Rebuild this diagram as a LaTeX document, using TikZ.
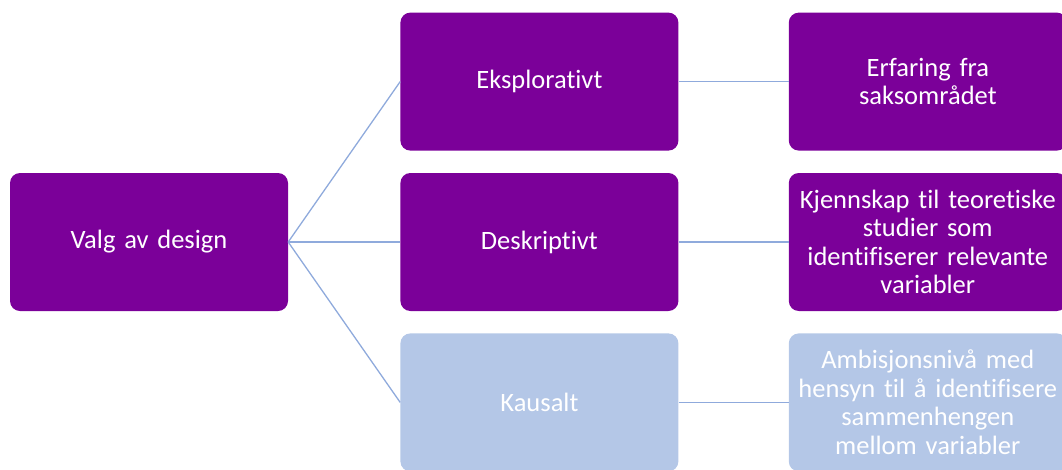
\documentclass[tikz,border=0pt]{standalone}
\usepackage{fontspec}
\setmainfont{Carlito}[Ligatures=NoCommon]
\usetikzlibrary{positioning}

\definecolor{designpurple}{RGB}{123,0,153}
\definecolor{designpale}{RGB}{180,199,231}
\definecolor{linkcolor}{RGB}{143,170,220}

\tikzset{
  designbox/.style={rectangle, rounded corners=10pt, fill=designpurple, text=white,
    minimum width=278pt, minimum height=138pt, text width=274pt, align=center,
    inner sep=0pt, font=\fontsize{26.5}{28.5}\selectfont},
  palebox/.style={designbox, fill=designpale},
  link/.style={draw=linkcolor, line width=1.3pt}
}

\begin{document}
\begin{tikzpicture}[x=1pt,y=-1pt]
\useasboundingbox (0,0) rectangle (1062,469);
\clip (0,0) rectangle (1062,469);

% root
\node[designbox] (choice) at (149,242) {Valg av design};

% design types
\node[designbox] (descr) [right=112pt of choice] {Deskriptivt};
\node[designbox] (explor) [above=22pt of descr] {Eksplorativt};
\node[palebox] (causal) [below=22pt of descr] {Kausalt};

% what each type needs
\node[designbox] (experience) [right=110pt of explor] {Erfaring fra\\saksområdet};
\node[designbox] (theory) [right=110pt of descr] {Kjennskap til teoretiske\\studier som\\identifiserer relevante\\variabler};
\node[palebox] (ambition) [right=110pt of causal] {Ambisjonsnivå med\\hensyn til å identifisere\\sammenhengen\\mellom variabler};

% connectors
\draw[link] (choice.east) -- (explor.west);
\draw[link] (choice.east) -- (descr.west);
\draw[link] (choice.east) -- (causal.west);
\draw[link] (explor) -- (experience);
\draw[link] (descr) -- (theory);
\draw[link] (causal) -- (ambition);
\end{tikzpicture}
\end{document}
